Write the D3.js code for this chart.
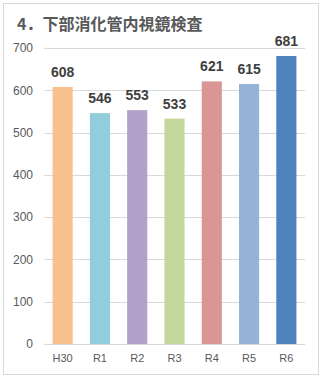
<!DOCTYPE html>
<html><head><meta charset="utf-8">
<script src="https://cdn.jsdelivr.net/npm/d3@7"></script>
<style>body{margin:0;background:#fff}svg{display:block}</style>
</head><body>
<svg id="c" width="323" height="379"></svg>
<script>
const title = "4．下部消化管内視鏡検査";
const categories = ["H30","R1","R2","R3","R4","R5","R6"];
const values = [608,546,553,533,621,615,681];
const colors = ["#F9C08F","#92CDDC","#B1A0C7","#C4D79B","#DA9694","#95B3D7","#4F81BD"];
const yTicks = [0,100,200,300,400,500,600,700];

const svg = d3.select("#c");
svg.append("rect").attr("x",3.5).attr("y",3.5).attr("width",315).attr("height",371)
  .attr("fill","#fff").attr("stroke","#d9d9d9").attr("stroke-width",1);
svg.append("text").attr("x",17).attr("y",30).text(title)
  .attr("font-family","'Noto Sans CJK JP', sans-serif").attr("font-size",16).attr("font-weight","bold").attr("fill","#595959");

const x = d3.scaleBand().domain(categories).range([44,305]).paddingInner(0.46).paddingOuter(0.23);
const y = d3.scaleLinear().domain([0,700]).range([344,48]);

const g = svg.append("g");
g.selectAll("line.grid").data(yTicks).join("line").attr("class","grid")
  .attr("x1",44).attr("x2",305).attr("y1",d=>Math.round(y(d))+0.5).attr("y2",d=>Math.round(y(d))+0.5)
  .attr("stroke","#d9d9d9").attr("stroke-width",1);

const yAxis = d3.axisLeft(y).tickValues(yTicks).tickSize(0).tickPadding(0);
const ya = svg.append("g").attr("transform","translate(33,0)").call(yAxis);
ya.select(".domain").remove();
ya.selectAll("text").attr("font-family","Arial, 'Liberation Sans', sans-serif").attr("font-size",12).attr("fill","#595959");

const xAxis = d3.axisBottom(x).tickSize(0).tickPadding(0);
const xa = svg.append("g").attr("transform","translate(0,354)").call(xAxis);
xa.select(".domain").remove();
xa.selectAll("text").attr("font-family","Arial, 'Liberation Sans', sans-serif").attr("font-size",11).attr("fill","#595959");

g.selectAll("rect.bar").data(values).join("rect").attr("class","bar")
  .attr("x",(d,i)=>x(categories[i])).attr("width",x.bandwidth())
  .attr("y",d=>y(d)).attr("height",d=>y(0)-y(d)).attr("fill",(d,i)=>colors[i]);

g.selectAll("text.val").data(values).join("text").attr("class","val")
  .attr("x",(d,i)=>x(categories[i])+x.bandwidth()/2).attr("y",d=>y(d)-10)
  .attr("text-anchor","middle").text(d=>d)
  .attr("font-family","Arial, 'Liberation Sans', sans-serif").attr("font-size",14).attr("font-weight","bold").attr("fill","#404040");
</script>
</body></html>
